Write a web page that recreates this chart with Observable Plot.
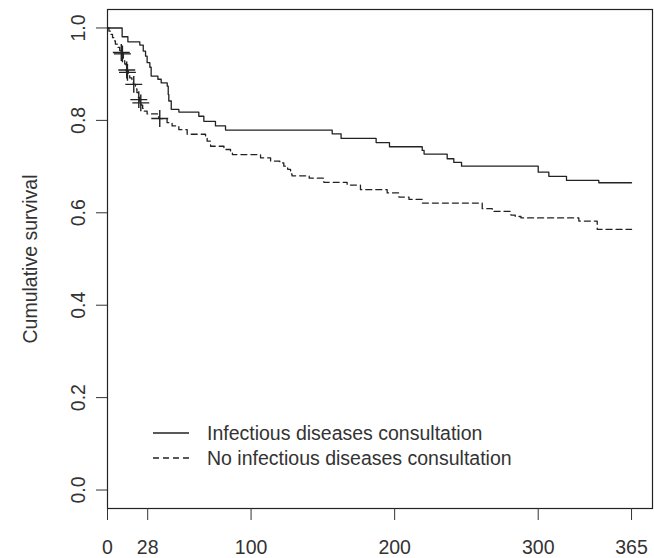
<!DOCTYPE html>
<html>
<head>
<meta charset="utf-8">
<script src="https://cdn.jsdelivr.net/npm/d3@7"></script>
<script src="https://cdn.jsdelivr.net/npm/@observablehq/plot@0.6"></script>
<style>
  html, body { margin: 0; padding: 0; background: white; }
  #chart { width: 654px; height: 558px; }
</style>
</head>
<body>
<div id="chart"></div>
<script>
// Infectious diseases consultation (solid)
const solidTime = [0, 10.2, 14.2, 22.5, 24.9, 26.5, 27.6, 29.5, 30.4, 35.1, 37.4, 41.6, 42.3, 42.7, 44.4, 49.7, 63.6, 67.1, 75.2, 82.2, 156.5, 162.7, 187.1, 196.4, 219.2, 220.5, 236.6, 241.2, 246.6, 300, 307.4, 319.7, 342.2, 365];
const solidSurv = [1.000, 0.981, 0.970, 0.963, 0.950, 0.939, 0.925, 0.915, 0.896, 0.889, 0.881, 0.874, 0.856, 0.842, 0.824, 0.818, 0.809, 0.798, 0.788, 0.779, 0.771, 0.761, 0.752, 0.743, 0.735, 0.727, 0.717, 0.709, 0.701, 0.688, 0.679, 0.670, 0.665, 0.665];

// No infectious diseases consultation (dashed)
const dashTime = [0, 1, 2, 3.5, 4.5, 5.5, 7, 8.5, 9.5, 11, 12, 13, 14.5, 15.5, 17, 18, 19.5, 20.5, 21.5, 22.3, 23.5, 24.5, 25.3, 27.6, 35.7, 41.5, 45, 49.7, 55.5, 68.3, 69.4, 71.8, 81.1, 85.7, 87, 106.6, 113.6, 120, 122.8, 125.5, 127.5, 128.5, 140.5, 150.7, 166.9, 176.2, 194.8, 203, 210, 219.2, 261, 268, 281, 284, 288, 328.3, 341.1, 365];
const dashSurv = [1.000, 0.993, 0.986, 0.979, 0.972, 0.965, 0.958, 0.951, 0.946, 0.935, 0.922, 0.907, 0.900, 0.892, 0.885, 0.878, 0.868, 0.860, 0.850, 0.842, 0.833, 0.826, 0.820, 0.814, 0.804, 0.795, 0.788, 0.780, 0.770, 0.766, 0.755, 0.744, 0.737, 0.730, 0.726, 0.719, 0.712, 0.708, 0.701, 0.694, 0.684, 0.680, 0.675, 0.666, 0.660, 0.650, 0.643, 0.634, 0.629, 0.621, 0.609, 0.603, 0.595, 0.592, 0.589, 0.582, 0.564, 0.564];

// Censoring marks on the dashed curve
const censorTime = [9.6, 10.4, 13.4, 13.9, 18.3, 21.8, 23.2, 36.4];
const censorSurv = [0.947, 0.944, 0.909, 0.904, 0.878, 0.845, 0.838, 0.804];

// Axis ticks and labels
const xTicks = [0, 28, 100, 200, 300, 365];
const yTicks = [0, 0.2, 0.4, 0.6, 0.8, 1.0];
const xMax = 365;
const yLabel = "Cumulative survival";
const legendLabels = ["Infectious diseases consultation", "No infectious diseases consultation"];

const solid = solidTime.map((t, i) => ({t, s: solidSurv[i]}));
const dashed = dashTime.map((t, i) => ({t, s: dashSurv[i]}));
const censor = censorTime.map((t, i) => ({t, s: censorSurv[i]}));

const FONT = "'Liberation Sans', Arial, Helvetica, sans-serif";
const FS = 19.5;
const INK = "#222";

const chart = Plot.plot({
  width: 654,
  height: 558,
  marginLeft: 107,
  marginRight: 2,
  marginTop: 9,
  marginBottom: 50,
  style: {fontFamily: FONT, fontSize: FS + "px", color: "#333", background: "white"},
  x: {domain: [0, xMax * 1.04]},
  y: {domain: [-0.04, 1.04]},
  marks: [
    Plot.frame({stroke: INK, strokeWidth: 1.2}),
    Plot.axisX({ticks: xTicks, tickSize: 12, tickPadding: 20, fontSize: FS, label: null, tickFormat: d => String(d)}),
    Plot.axisY({ticks: yTicks, tickSize: 11, tickPadding: 12, tickRotate: -90, fontSize: FS, label: null, tickFormat: d3.format(".1f")}),
    Plot.text([yLabel], {frameAnchor: "left", textAnchor: "middle", rotate: -90, dx: -77, fontSize: FS, fill: "#333"}),
    Plot.line(solid, {x: "t", y: "s", curve: "step-after", stroke: INK, strokeWidth: 1.3}),
    Plot.line(dashed, {x: "t", y: "s", curve: "step-after", stroke: INK, strokeWidth: 1.3, strokeDasharray: "6,4"}),
    Plot.dot(censor, {x: "t", y: "s", symbol: "plus", r: 5.5, stroke: INK, fill: "none", strokeWidth: 1.4})
  ]
});

// Legend inside the plotting region (bottom-left)
const lg = d3.select(chart).append("g").attr("class", "legend");
const lgX0 = 153, lgX1 = 189, lgTextX = 207, lgY0 = 433, lgStep = 25;
legendLabels.forEach((label, i) => {
  const y = lgY0 + i * lgStep;
  lg.append("line")
    .attr("x1", lgX0).attr("x2", lgX1).attr("y1", y).attr("y2", y)
    .attr("stroke", INK).attr("stroke-width", 1.3)
    .attr("stroke-dasharray", i === 1 ? "6,4" : null);
  lg.append("text")
    .attr("x", lgTextX).attr("y", y).attr("dy", "0.35em")
    .attr("fill", "#333")
    .attr("text-anchor", "start")
    .style("font-family", FONT).style("font-size", FS + "px")
    .text(label);
});

document.getElementById("chart").appendChild(chart);
</script>
</body>
</html>
